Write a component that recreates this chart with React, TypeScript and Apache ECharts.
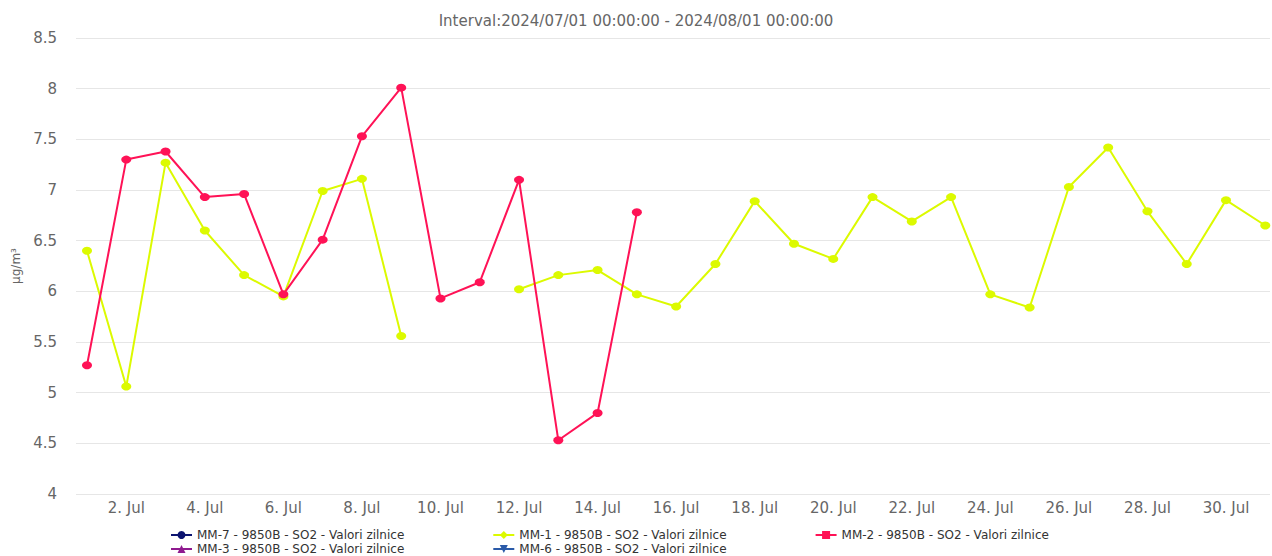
import React, { useEffect, useRef } from "react";
import * as echarts from "echarts";

const days = Array.from({ length: 31 }, (_, i) => i + 1);
const tickDays = [2, 4, 6, 8, 10, 12, 14, 16, 18, 20, 22, 24, 26, 28, 30];
const yTicks = [4, 4.5, 5, 5.5, 6, 6.5, 7, 7.5, 8, 8.5];

const mm2Values: (number | null)[] = [
  5.27, 7.3, 7.38, 6.93, 6.96, 5.97, 6.51, 7.53, 8.01, 5.93, 6.09, 7.1, 4.53, 4.8, 6.78,
];
const mm1Values: (number | null)[] = [
  6.4, 5.06, 7.27, 6.6, 6.16, 5.95, 6.99, 7.11, 5.56, null, null, 6.02, 6.16, 6.21, 5.97,
  5.85, 6.27, 6.89, 6.47, 6.32, 6.93, 6.69, 6.93, 5.97, 5.84, 7.03, 7.42, 6.79, 6.27, 6.9,
  6.65,
];

const seriesNames = [
  "MM-7 - 9850B - SO2 - Valori zilnice",
  "MM-1 - 9850B - SO2 - Valori zilnice",
  "MM-2 - 9850B - SO2 - Valori zilnice",
  "MM-3 - 9850B - SO2 - Valori zilnice",
  "MM-6 - 9850B - SO2 - Valori zilnice",
];
const seriesColors = ["#0d1470", "#dcfa00", "#ff1256", "#8f1a8f", "#2a5aa8"];
const seriesSymbols = ["circle", "diamond", "rect", "triangle", "path://M0,0 L10,0 L5,10 Z"];

const FONT = "'DejaVu Sans', sans-serif";

function toPoints(vals: (number | null)[]) {
  return vals.map((v, i) => ({ value: [days[i], v], symbol: "circle" }));
}

export default function App() {
  const ref = useRef<HTMLDivElement>(null);
  useEffect(() => {
    document.body.style.margin = "0";
    if (!ref.current) return;
    const chart = echarts.init(ref.current, null, { renderer: "svg" });
    const dataMap: Record<number, (number | null)[]> = { 1: mm1Values, 2: mm2Values };
    const legendCommon = {
      orient: "horizontal" as const,
      itemWidth: 21,
      itemHeight: 10,
      itemGap: 88,
      textStyle: { color: "#333", fontSize: 12, fontFamily: FONT, lineHeight: 12 },
      selectedMode: false,
      padding: 0,
    };
    chart.setOption({
      animation: false,
      backgroundColor: "#fff",
      title: {
        text: "Interval:2024/07/01 00:00:00 - 2024/08/01 00:00:00",
        left: "center",
        top: 13,
        padding: 0,
        textStyle: { color: "#666", fontSize: 15, fontWeight: "normal", fontFamily: FONT, lineHeight: 16 },
      },
      legend: [
        { ...legendCommon, left: 170, top: 529, data: [seriesNames[0], seriesNames[1], seriesNames[2]] },
        { ...legendCommon, left: 170, top: 543, data: [seriesNames[3], seriesNames[4]] },
      ],
      grid: { left: 76, right: 2, top: 38, bottom: 62, containLabel: false },
      xAxis: {
        type: "value",
        min: 0.72,
        max: 31.12,
        axisLine: { show: false },
        axisTick: { show: false },
        splitLine: { show: false },
        axisLabel: {
          customValues: tickDays,
          formatter: (v: number) => `${v}. Jul`,
          color: "#666",
          fontSize: 15,
          fontFamily: FONT,
          margin: 6,
        },
      },
      yAxis: {
        type: "value",
        min: yTicks[0],
        max: yTicks[yTicks.length - 1],
        interval: 0.5,
        name: "µg/m³",
        nameLocation: "middle",
        nameGap: 54,
        nameRotate: 90,
        nameTextStyle: { color: "#666", fontSize: 12, fontFamily: FONT },
        axisLine: { show: false },
        axisTick: { show: false },
        splitLine: { lineStyle: { color: "#e6e6e6", width: 1 } },
        axisLabel: { color: "#666", fontSize: 15, fontFamily: FONT, margin: 19 },
      },
      series: seriesNames.map((name, i) => ({
        name,
        type: "line",
        data: dataMap[i] ? toPoints(dataMap[i]) : [],
        color: seriesColors[i],
        symbol: seriesSymbols[i],
        symbolSize: [10, 8],
        showSymbol: true,
        connectNulls: false,
        lineStyle: { width: 2, color: seriesColors[i] },
        itemStyle: { color: seriesColors[i] },
      })),
    });
    return () => chart.dispose();
  }, []);
  return <div ref={ref} style={{ width: 1272, height: 556 }} />;
}
